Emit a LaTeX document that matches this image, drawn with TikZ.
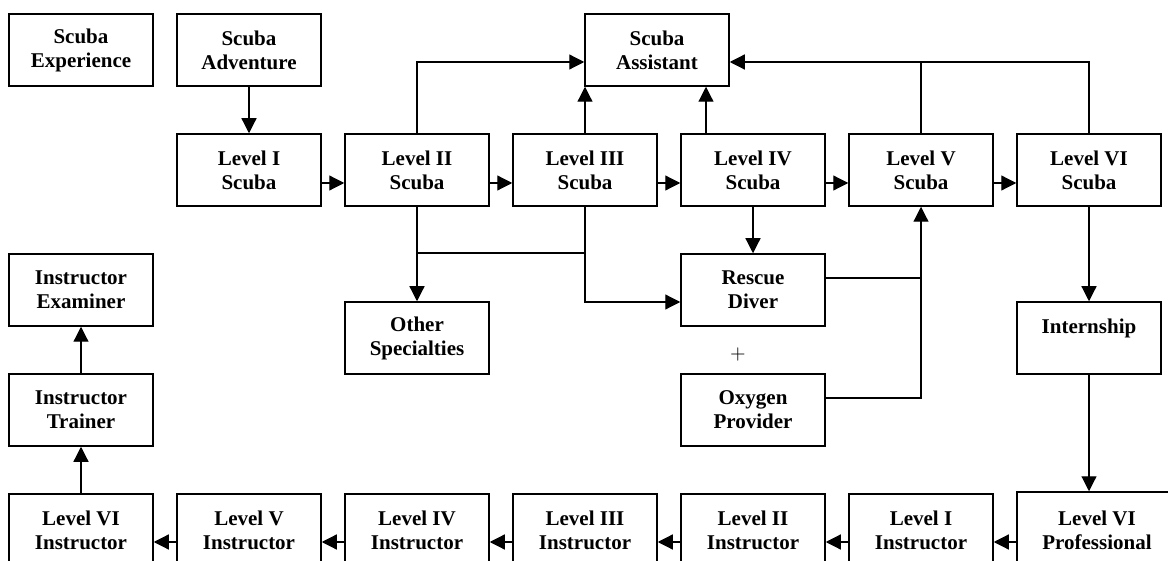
\documentclass[tikz,border=0pt]{standalone}
\usepackage{fontspec}
\setmainfont{Liberation Serif}
\usetikzlibrary{arrows.meta}

\tikzstyle{box} = [draw,line width=0.75pt,minimum width=72pt,minimum height=36pt,inner sep=0pt,align=center,font=\fontsize{10.5}{12}\selectfont\bfseries]
\tikzstyle{link} = [line width=0.6pt,-{Triangle[length=7.5pt,width=7.5pt]}]
\tikzstyle{wire} = [line width=0.6pt]

\begin{document}
\begin{tikzpicture}[x=0.5pt,y=-0.5pt]
	\clip (0,0) rectangle (1168,561);

	\node[box] (exp) at (81,50) {Scuba\\Experience};
	\node[box] (adv) at (249,50) {Scuba\\Adventure};
	\node[box] (asst) at (657,50) {Scuba\\Assistant};

	\node[box] (s1) at (249,170) {Level I\\Scuba};
	\node[box] (s2) at (417,170) {Level II\\Scuba};
	\node[box] (s3) at (585,170) {Level III\\Scuba};
	\node[box] (s4) at (753,170) {Level IV\\Scuba};
	\node[box] (s5) at (921,170) {Level V\\Scuba};
	\node[box] (s6) at (1089,170) {Level VI\\Scuba};

	\draw[link] (adv) -- (s1);
	\draw[link] ([yshift=-6.5pt]s1.east) -- ([yshift=-6.5pt]s2.west);
	\draw[link] ([yshift=-6.5pt]s2.east) -- ([yshift=-6.5pt]s3.west);
	\draw[link] ([yshift=-6.5pt]s3.east) -- ([yshift=-6.5pt]s4.west);
	\draw[link] ([yshift=-6.5pt]s4.east) -- ([yshift=-6.5pt]s5.west);
	\draw[link] ([yshift=-6.5pt]s5.east) -- ([yshift=-6.5pt]s6.west);

	% up to the assistant
	\coordinate (up5) at (921,62);
	\draw[link] (s2.north) |- ([yshift=-6pt]asst.west);
	\draw[link] (s3.north) -- (s3.north |- asst.south);
	\draw[link] ([xshift=-23.5pt]s4.north) -- ([xshift=-23.5pt]s4.north |- asst.south);
	\draw[link] (s6.north) |- ([yshift=-6pt]asst.east);
	\draw[wire] (s5.north) -- (up5);

	\node[box] (rescue) at (753,290) {Rescue\\Diver};
	\node[box] (other) at (417,338) {Other\\Specialties};
	\node (plus) at (738,354) {$+$};
	\node[box] (oxygen) at (753,410) {Oxygen\\Provider};
	\node[box] (intern) at (1089,338) {Internship\\~};

	\coordinate (j2) at (417,253);
	\coordinate (j3) at (585,253);
	\coordinate (j5) at (921,278);
	\draw[link] (s2) -- (other);
	\draw[wire] (j2) -- (j3);
	\draw[link] (s3.south) |- ([yshift=-6pt]rescue.west);
	\draw[link] (s4) -- (rescue);
	\draw[wire] ([yshift=6pt]rescue.east) -- (j5);
	\draw[link] ([yshift=6pt]oxygen.east) -| (s5.south);
	\draw[link] (s6) -- (intern);

	\node[box] (exam) at (81,290) {Instructor\\Examiner};
	\node[box] (trainer) at (81,410) {Instructor\\Trainer};

	\node[box] (i6) at (81,530) {Level VI\\Instructor};
	\node[box] (i5) at (249,530) {Level V\\Instructor};
	\node[box] (i4) at (417,530) {Level IV\\Instructor};
	\node[box] (i3) at (585,530) {Level III\\Instructor};
	\node[box] (i2) at (753,530) {Level II\\Instructor};
	\node[box] (i1) at (921,530) {Level I\\Instructor};
	\node[box,minimum width=80pt,minimum height=38pt] (pro) at (1097,530) {Level VI\\Professional};

	\draw[link] (intern.south) -- (intern.south |- pro.north);
	\draw[link] ([yshift=-6pt]pro.west) -- ([yshift=-6pt]i1.east);
	\draw[link] ([yshift=-6pt]i1.west) -- ([yshift=-6pt]i2.east);
	\draw[link] ([yshift=-6pt]i2.west) -- ([yshift=-6pt]i3.east);
	\draw[link] ([yshift=-6pt]i3.west) -- ([yshift=-6pt]i4.east);
	\draw[link] ([yshift=-6pt]i4.west) -- ([yshift=-6pt]i5.east);
	\draw[link] ([yshift=-6pt]i5.west) -- ([yshift=-6pt]i6.east);
	\draw[link] (i6) -- (trainer);
	\draw[link] (trainer) -- (exam);
\end{tikzpicture}
\end{document}
